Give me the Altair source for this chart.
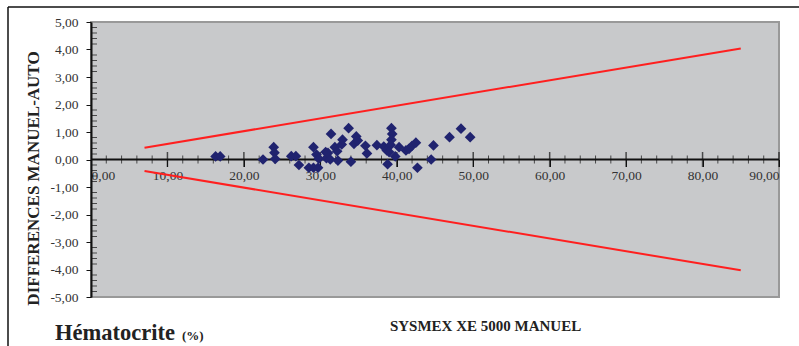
import altair as alt
import pandas as pd

# Scatter data: hematocrit (x) vs difference manual-auto (y)
hct = [16.3, 16.9, 22.5, 23.9, 24.0, 24.1, 26.2, 26.8, 27.2, 28.5, 29.1, 29.7,
       29.1, 29.5, 29.8, 30.7, 30.8, 31.0, 31.3, 31.4, 31.9, 32.2, 32.3, 32.8,
       32.9, 33.7, 34.0, 34.4, 34.7, 34.9, 35.9, 36.1, 37.4, 38.3, 38.7, 38.8,
       39.3, 39.4, 39.3, 39.2, 39.0, 39.8, 40.3, 41.2, 41.6, 42.0, 42.5, 42.7,
       44.5, 44.8, 46.9, 48.4, 49.6]
diff = [0.11, 0.11, 0.00, 0.45, 0.25, 0.02, 0.12, 0.12, -0.20, -0.30, -0.30, -0.30,
        0.45, 0.18, 0.03, 0.27, 0.05, 0.24, 0.00, 0.93, 0.45, 0.30, -0.04, 0.55,
        0.72, 1.14, -0.08, 0.57, 0.84, 0.69, 0.50, 0.22, 0.52, 0.47, 0.33, -0.17,
        1.14, 0.93, 0.72, 0.53, 0.27, 0.11, 0.45, 0.33, 0.39, 0.50, 0.61, -0.30,
        0.00, 0.51, 0.81, 1.12, 0.81]

# Limit lines
limit_x = [7, 85]
upper_y = [0.43, 4.04]
lower_y = [-0.42, -4.03]

# Axis ticks
x_labels = [0, 10, 20, 30, 40, 50, 60, 70, 80, 90]
x_major = [10, 20, 30, 40, 50, 60, 70, 80, 90]
x_minor = [v for v in range(2, 90, 2) if v % 10 != 0]
y_labels = [-5, -4, -3, -2, -1, 0, 1, 2, 3, 4, 5]
y_minor = [round(-5 + 0.2 * i, 1) for i in range(51) if (i % 5) != 0]

FONT = "Liberation Serif"
label_expr = "replace(replace(format(datum.value, '.2f'), '.', ','), '\u2212', '-')"

xs = alt.Scale(domain=[0, 90], nice=False, zero=False)
ys = alt.Scale(domain=[-5, 5], nice=False, zero=False)

ax_x = alt.Axis(
    orient="bottom", offset=-137.5, values=x_labels, labelExpr=label_expr,
    labelFont=FONT, labelFontSize=13.5, labelColor="#333333", labelPadding=2,
    domain=False, ticks=True, tickSize=7, tickColor="#111111", tickWidth=1,
    grid=False, title="SYSMEX XE 5000 MANUEL", titleFont=FONT, titleFontSize=15,
    titleFontWeight="bold", titleColor="#222222", titleX=394, titleY=166,
    titleAlign="center", titleBaseline="middle")
ax_y = alt.Axis(
    orient="left", values=y_labels, labelExpr=label_expr,
    labelFont=FONT, labelFontSize=13.5, labelColor="#333333", labelPadding=8,
    domain=True, domainColor="#111111", domainWidth=2, ticks=True, tickSize=5,
    tickColor="#111111", tickWidth=1, grid=False,
    title="DIFFERENCES MANUEL-AUTO", titleFont=FONT, titleFontSize=17,
    titleFontWeight="bold", titleColor="#222222", titleX=-58, titleY=156,
    titleAlign="center", titleBaseline="middle", titleAngle=-90)


def X(f):
    return alt.X(f, scale=xs, axis=ax_x)


def Y(f):
    return alt.Y(f, scale=ys, axis=ax_y)


pts = pd.DataFrame({"x": hct, "y": diff})
lines = pd.DataFrame({
    "x": limit_x * 2,
    "y": upper_y + lower_y,
    "g": ["up", "up", "low", "low"],
})
xmin_df = pd.DataFrame({"x": x_minor, "y": [0] * len(x_minor)})
xmaj_df = pd.DataFrame({"x": x_major, "y": [0] * len(x_major)})
ymin_df = pd.DataFrame({"y": y_minor, "x": [0] * len(y_minor)})
zero_df = pd.DataFrame({"x": [0, 90], "y": [0, 0]})

scatter = alt.Chart(pts).mark_point(
    shape="diamond", filled=True, size=115, color="#20236f", opacity=1).encode(
    x=X("x:Q"), y=Y("y:Q"))

zero_line = alt.Chart(zero_df).mark_line(color="#111111", strokeWidth=2).encode(
    x=X("x:Q"), y=Y("y:Q"))

x_minor_ticks = alt.Chart(xmin_df).mark_tick(
    orient="vertical", size=8, thickness=1, color="#111111").encode(
    x=X("x:Q"), y=Y("y:Q"))
x_major_ticks = alt.Chart(xmaj_df).mark_tick(
    orient="vertical", size=15, thickness=1.5, color="#111111").encode(
    x=X("x:Q"), y=Y("y:Q"))
y_minor_ticks = alt.Chart(ymin_df).mark_tick(
    orient="horizontal", size=6, thickness=1, color="#111111", xOffset=3).encode(
    x=X("x:Q"), y=Y("y:Q"))

limit = alt.Chart(lines).mark_line(color="#ff1f1f", strokeWidth=2).encode(
    x=X("x:Q"), y=Y("y:Q"), detail="g:N")

frame_top = alt.Chart(pd.DataFrame({"a": [0]})).mark_rule(
    color="#111111", strokeWidth=1.5).encode(
    x=alt.value(-83), x2=alt.value(720), y=alt.value(-15))
frame_left = alt.Chart(pd.DataFrame({"a": [0]})).mark_rule(
    color="#111111", strokeWidth=1.5).encode(
    x=alt.value(-83), y=alt.value(-15), y2=alt.value(340))

hema = alt.Chart(pd.DataFrame({"t": ["Hématocrite"]})).mark_text(
    font=FONT, fontSize=22.5, fontWeight="bold", align="left", baseline="alphabetic",
    color="#222222").encode(text="t:N", x=alt.value(-36), y=alt.value(318))
pct = alt.Chart(pd.DataFrame({"t": ["(%)"]})).mark_text(
    font=FONT, fontSize=13, fontWeight="bold", align="left", baseline="alphabetic",
    color="#222222").encode(text="t:N", x=alt.value(91), y=alt.value(318))

chart = alt.layer(
    zero_line, x_minor_ticks, x_major_ticks, y_minor_ticks, limit, scatter,
    frame_top, frame_left, hema, pct
).properties(
    width=688, height=275,
    autosize=alt.AutoSizeParams(type="none"),
    padding={"left": 91, "top": 22, "right": 20, "bottom": 49},
    background="white",
).configure_view(
    fill="#c8c9cb", stroke="#999999", strokeWidth=2
)

chart.save("out.html", embed_options={"renderer": "svg", "actions": False})
